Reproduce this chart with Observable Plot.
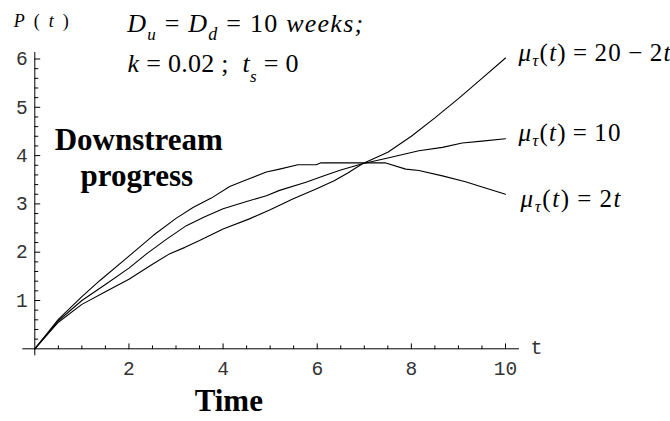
<!DOCTYPE html>
<html>
<head>
<meta charset="utf-8">
<script src="https://cdn.jsdelivr.net/npm/d3@7"></script>
<script src="https://cdn.jsdelivr.net/npm/@observablehq/plot@0.6"></script>
<style>
  html, body { margin: 0; padding: 0; background: #fff; }
  #chart svg { display: block; }
</style>
</head>
<body>
<div id="chart"></div>
<script>
// ---- Data ----
const series = ["20-2t", "10", "2t"];

// mu_tau(t) = 2t : rises fastest, plateaus, then declines
const t_2t = [0, 0.5, 1, 1.39, 2, 2.52, 3, 3.37, 3.75, 4.14, 4.5, 4.92, 5.2, 5.59, 5.98, 6.08, 7.44, 7.88, 8.16, 8.66, 9.15, 9.47, 10];
const p_2t = [0, 0.61, 1.08, 1.42, 1.92, 2.35, 2.7, 2.93, 3.12, 3.36, 3.5, 3.66, 3.72, 3.81, 3.81, 3.85, 3.85, 3.72, 3.69, 3.58, 3.46, 3.36, 3.2];

// mu_tau(t) = 10
const t_10 = [0, 0.5, 1, 1.5, 2, 2.38, 2.8, 3.22, 3.6, 4, 4.5, 4.92, 5.2, 5.76, 6.19, 6.5, 6.96, 7.5, 8.16, 8.66, 9.08, 9.5, 10];
const p_10 = [0, 0.58, 1.0, 1.33, 1.67, 1.97, 2.27, 2.55, 2.73, 2.9, 3.05, 3.17, 3.28, 3.45, 3.6, 3.7, 3.83, 3.95, 4.1, 4.17, 4.26, 4.3, 4.35];

// mu_tau(t) = 20 - 2t
const t_20 = [0, 0.5, 1, 1.5, 2, 2.5, 2.87, 3.19, 3.5, 4, 4.56, 5, 5.48, 6, 6.36, 6.65, 6.96, 7.5, 8, 8.5, 9, 9.5, 10];
const p_20 = [0, 0.55, 0.92, 1.18, 1.44, 1.75, 1.97, 2.1, 2.24, 2.48, 2.69, 2.88, 3.1, 3.32, 3.48, 3.64, 3.83, 4.07, 4.4, 4.78, 5.18, 5.6, 6.02];

// Axis ticks
const xMajor = [2, 4, 6, 8, 10];
const xMinor = [0.5, 1, 1.5, 2.5, 3, 3.5, 4.5, 5, 5.5, 6.5, 7, 7.5, 8.5, 9, 9.5];
const yMajor = [1, 2, 3, 4, 5, 6];
const yMinor = [0.2, 0.4, 0.6, 0.8, 1.2, 1.4, 1.6, 1.8, 2.2, 2.4, 2.6, 2.8, 3.2, 3.4, 3.6, 3.8, 4.2, 4.4, 4.6, 4.8, 5.2, 5.4, 5.6, 5.8];

// Texts
const yTitle = "P (t)";
const xName = "t";
const xTitle = "Time";
const paramLine1 = "D_u = D_d = 10 weeks;";
const paramLine2 = "k = 0.02 ; t_s = 0";
const noteLines = ["Downstream", "progress"];
const curveLabels = ["μτ(t) = 20 − 2t", "μτ(t) = 10", "μτ(t) = 2t"];

// ---- Build table ----
const rows = [];
[[t_20, p_20], [t_10, p_10], [t_2t, p_2t]].forEach(([ts, ps], k) => {
  ts.forEach((t, i) => rows.push({series: series[k], t, p: ps[i]}));
});
const lastPoints = series.map(s => rows.filter(r => r.series === s).at(-1));

const SERIF = "'Liberation Serif', 'Times New Roman', Times, serif";
const MONO = "'Liberation Mono', 'Courier New', monospace";
const tickShape = {draw(ctx, l) { ctx.moveTo(0, 0); ctx.lineTo(0, -l); }};

const plot = Plot.plot({
  width: 670,
  height: 421,
  marginLeft: 34.3,
  marginRight: 165,
  marginTop: 58.5,
  marginBottom: 72.7,
  x: {domain: [0, 10], axis: null},
  y: {domain: [0, 6], axis: null},
  style: {background: "#fff", color: "#000"},
  marks: [
    Plot.ruleY([0], {stroke: "#000", strokeWidth: 1, insetLeft: -12, insetRight: -14}),
    Plot.ruleX([0], {stroke: "#000", strokeWidth: 1, insetTop: -6.5, insetBottom: -7}),
    Plot.vector(xMajor, {x: d => d, y: 0, length: 5, rotate: 0, anchor: "start", shape: tickShape, stroke: "#000", strokeWidth: 1}),
    Plot.vector(xMinor, {x: d => d, y: 0, length: 3, rotate: 0, anchor: "start", shape: tickShape, stroke: "#000", strokeWidth: 1}),
    Plot.vector(yMajor, {x: 0, y: d => d, length: 5, rotate: 90, anchor: "start", shape: tickShape, stroke: "#000", strokeWidth: 1}),
    Plot.vector(yMinor, {x: 0, y: d => d, length: 3, rotate: 90, anchor: "start", shape: tickShape, stroke: "#000", strokeWidth: 1}),
    Plot.text(xMajor, {x: d => d, y: 0, text: d => String(d), dy: 20, fontFamily: MONO, fontSize: 19.5, fill: "#333", lineAnchor: "middle"}),
    Plot.text(yMajor, {x: 0, y: d => d, text: d => String(d), dx: -7, textAnchor: "end", fontFamily: MONO, fontSize: 19.5, fill: "#333", lineAnchor: "middle"}),
    Plot.text([xName], {frameAnchor: "bottom-right", text: d => d, dx: 37, dy: -1.5, fontFamily: MONO, fontSize: 20, fill: "#333", lineAnchor: "middle"}),
    Plot.line(rows, {x: "t", y: "p", z: "series", stroke: "#000", strokeWidth: 1.1, curve: "linear"}),
    Plot.text([lastPoints[0]], {x: "t", y: "p", text: () => curveLabels[0], dx: 13, dy: 2.5, textAnchor: "start", lineAnchor: "bottom", fontFamily: SERIF, fontSize: 25}),
    Plot.text([lastPoints[1]], {x: "t", y: "p", text: () => curveLabels[1], dx: 13, dy: 2, textAnchor: "start", lineAnchor: "bottom", fontFamily: SERIF, fontSize: 25}),
    Plot.text([lastPoints[2]], {x: "t", y: "p", text: () => curveLabels[2], dx: 15, dy: 13, textAnchor: "start", lineAnchor: "bottom", fontFamily: SERIF, fontSize: 25}),
    Plot.text([yTitle], {frameAnchor: "top-left", text: d => d, dx: -21, dy: -31.8, textAnchor: "start", lineAnchor: "bottom", fontFamily: SERIF, fontSize: 18}),
    Plot.text([paramLine1], {frameAnchor: "top-left", text: d => d, dx: 92.4, dy: -26.8, textAnchor: "start", lineAnchor: "bottom", fontFamily: SERIF, fontSize: 26}),
    Plot.text([paramLine2], {frameAnchor: "top-left", text: d => d, dx: 92.7, dy: 13.2, textAnchor: "start", lineAnchor: "bottom", fontFamily: SERIF, fontSize: 26}),
    Plot.text([noteLines[0]], {frameAnchor: "top-left", text: d => d, dx: 104, dy: 90.8, textAnchor: "middle", lineAnchor: "bottom", fontFamily: SERIF, fontSize: 31, fontWeight: "bold"}),
    Plot.text([noteLines[1]], {frameAnchor: "top-left", text: d => d, dx: 102, dy: 126.5, textAnchor: "middle", lineAnchor: "bottom", fontFamily: SERIF, fontSize: 31, fontWeight: "bold"}),
    Plot.text([xTitle], {frameAnchor: "bottom-left", text: d => d, dx: 194, dy: 61.7, textAnchor: "middle", lineAnchor: "bottom", fontFamily: SERIF, fontSize: 31, fontWeight: "bold"})
  ]
});

// ---- Rich math typesetting (subscripts / italics) ----
const it = s => `<tspan font-style="italic">${s}</tspan>`;
const sub = (s, size, shift) => `<tspan font-style="italic" font-size="${size}" dy="${shift}">${s}</tspan><tspan dy="${-shift}">`;
const TS = "\u2009"; // thin space
const muLabel = rest => `${it("μ")}<tspan font-style="italic" font-size="17" dy="5">τ</tspan><tspan dy="-5">(</tspan>${it("t")})${TS}=${TS}${rest}`;
const rich = new Map([
  [yTitle, {html: `${it("P")} ( ${it("t")} )`, len: 55}],
  [paramLine1, {html: `${it("D")}${sub("u", 17, 8)} = </tspan>${it("D")}${sub("d", 18, 8)} = 10 </tspan>${it("weeks;")}`, len: 236}],
  [paramLine2, {html: `${it("k")} = 0.02 ;  ${it("t")}${sub("s", 17, 10)} = 0</tspan>`, len: 171}],
  [curveLabels[0], {html: muLabel(`20${TS}−${TS}2${it("t")}`), len: 152}],
  [curveLabels[1], {html: muLabel(`10`), len: 102}],
  [curveLabels[2], {html: muLabel(`2${it("t")}`), len: 100}]
]);
d3.select(plot).selectAll("text").each(function() {
  const r = rich.get(this.textContent);
  if (r) {
    this.innerHTML = r.html;
    this.setAttribute("font-family", SERIF);
    this.style.fontFamily = SERIF;
    this.setAttribute("textLength", r.len);
    this.setAttribute("lengthAdjust", "spacing");
  }
});

document.getElementById("chart").appendChild(plot);
</script>
</body>
</html>
